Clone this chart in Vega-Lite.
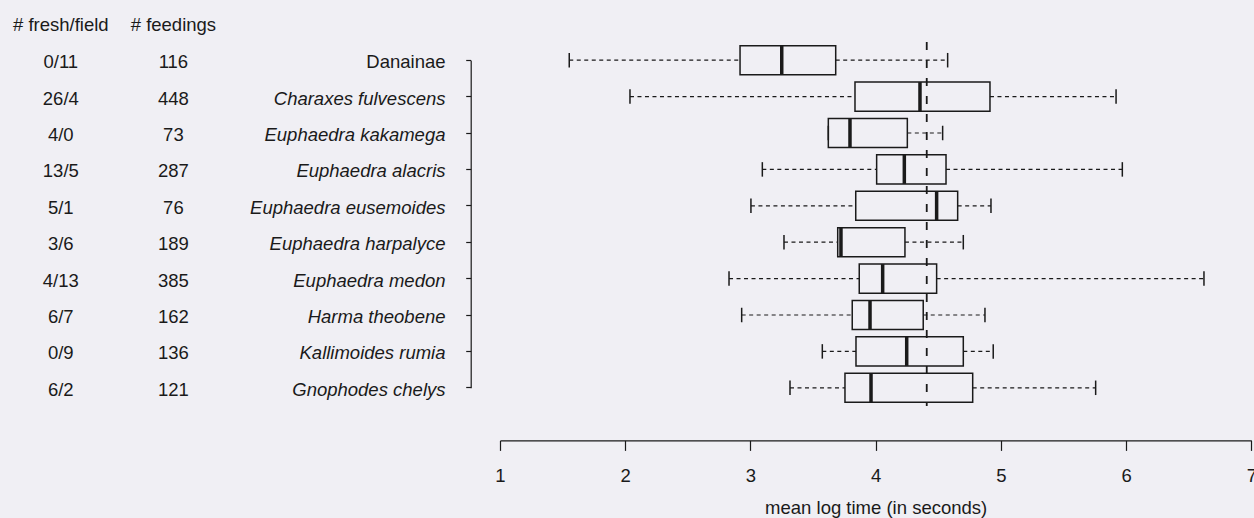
{
  "$schema": "https://vega.github.io/schema/vega-lite/v6.json",
  "background": "#f0eff4",
  "padding": {"top": 15, "left": 0, "right": 0, "bottom": 8},
  "config": {
    "view": {"stroke": null},
    "font": "Liberation Sans",
    "title": {"font": "Liberation Sans", "fontSize": 18.5, "fontWeight": "normal", "color": "#1a1a1a"}
  },
  "data": {
    "values": [
      {"species": "Danainae", "ff": "0/11", "feed": 116, "lo": 1.553, "q1": 2.917, "med": 3.250, "q3": 3.681, "hi": 4.575},
      {"species": "Charaxes fulvescens", "ff": "26/4", "feed": 448, "lo": 2.038, "q1": 3.835, "med": 4.354, "q3": 4.913, "hi": 5.920},
      {"species": "Euphaedra kakamega", "ff": "4/0", "feed": 73, "lo": 3.622, "q1": 3.622, "med": 3.795, "q3": 4.253, "hi": 4.535},
      {"species": "Euphaedra alacris", "ff": "13/5", "feed": 287, "lo": 3.095, "q1": 4.008, "med": 4.229, "q3": 4.562, "hi": 5.970},
      {"species": "Euphaedra eusemoides", "ff": "5/1", "feed": 76, "lo": 3.004, "q1": 3.841, "med": 4.487, "q3": 4.655, "hi": 4.921},
      {"species": "Euphaedra harpalyce", "ff": "3/6", "feed": 189, "lo": 3.268, "q1": 3.697, "med": 3.723, "q3": 4.234, "hi": 4.700},
      {"species": "Euphaedra medon", "ff": "4/13", "feed": 385, "lo": 2.829, "q1": 3.869, "med": 4.056, "q3": 4.487, "hi": 6.622},
      {"species": "Harma theobene", "ff": "6/7", "feed": 162, "lo": 2.930, "q1": 3.813, "med": 3.955, "q3": 4.380, "hi": 4.873},
      {"species": "Kallimoides rumia", "ff": "0/9", "feed": 136, "lo": 3.574, "q1": 3.843, "med": 4.248, "q3": 4.700, "hi": 4.939},
      {"species": "Gnophodes chelys", "ff": "6/2", "feed": 121, "lo": 3.316, "q1": 3.755, "med": 3.963, "q3": 4.775, "hi": 5.757}
    ]
  },
  "bounds": "flush",
  "spacing": 500,
  "hconcat": [
    {
      "bounds": "flush",
      "spacing": 0,
      "hconcat": [
        {
          "width": 121.6,
          "height": 364,
          "title": {"text": "# fresh/field", "offset": 8},
          "mark": {"type": "text", "fontSize": 18.5, "font": "Liberation Sans", "color": "#1a1a1a", "dy": 2},
          "encoding": {
            "y": {"field": "species", "type": "nominal", "sort": null, "axis": null, "scale": {"paddingInner": 0, "paddingOuter": 0}},
            "text": {"field": "ff", "type": "nominal"}
          }
        },
        {
          "width": 102.8,
          "height": 364,
          "title": {"text": "# feedings", "offset": 8},
          "mark": {"type": "text", "fontSize": 18.5, "font": "Liberation Sans", "color": "#1a1a1a", "dy": 2},
          "encoding": {
            "y": {"field": "species", "type": "nominal", "sort": null, "axis": null, "scale": {"paddingInner": 0, "paddingOuter": 0}},
            "text": {"field": "feed", "type": "quantitative"}
          }
        }
      ]
    },
    {
      "width": 751.3,
      "height": 364,
      "layer": [
        {
          "data": {"values": [{"overall": 4.408}]},
          "mark": {"type": "rule", "strokeDash": [8, 10], "strokeWidth": 1.8, "color": "#1a1a1a"},
          "encoding": {"x": {"field": "overall", "type": "quantitative"}}
        },
        {
          "mark": {"type": "rule", "strokeDash": [4, 3.5], "strokeWidth": 1.2, "color": "#1a1a1a"},
          "encoding": {
            "y": {"field": "species", "type": "nominal", "sort": null, "scale": {"paddingInner": 0, "paddingOuter": 0},
              "axis": {
                "title": null, "orient": "left", "offset": 29.3, "tickSize": 5, "labelPadding": 20.7, "labelOffset": 2,
                "labelFontSize": 18.5, "labelFont": "Liberation Sans", "labelColor": "#1a1a1a",
                "labelFontStyle": {"condition": {"test": "datum.value === 'Danainae'", "value": "normal"}, "value": "italic"},
                "labelLimit": 400,
                "domainColor": "#1a1a1a", "domainWidth": 1.2, "domainDash": [0, 18.2, 327.6, 100],
                "tickColor": "#1a1a1a", "tickWidth": 1.2, "grid": false
              }
            },
            "x": {"field": "lo", "type": "quantitative"},
            "x2": {"field": "q1"}
          }
        },
        {
          "mark": {"type": "rule", "strokeDash": [4, 3.5], "strokeWidth": 1.2, "color": "#1a1a1a"},
          "encoding": {
            "y": {"field": "species", "type": "nominal", "sort": null},
            "x": {"field": "q3", "type": "quantitative"},
            "x2": {"field": "hi"}
          }
        },
        {
          "mark": {"type": "tick", "size": 14.5, "thickness": 1.5, "color": "#1a1a1a", "opacity": 1},
          "encoding": {
            "y": {"field": "species", "type": "nominal", "sort": null},
            "x": {"field": "lo", "type": "quantitative"}
          }
        },
        {
          "mark": {"type": "tick", "size": 14.5, "thickness": 1.5, "color": "#1a1a1a", "opacity": 1},
          "encoding": {
            "y": {"field": "species", "type": "nominal", "sort": null},
            "x": {"field": "hi", "type": "quantitative"}
          }
        },
        {
          "mark": {"type": "bar", "height": {"band": 0.8}, "fill": "#f0eff4", "fillOpacity": 0, "stroke": "#1a1a1a", "strokeWidth": 1.5},
          "encoding": {
            "y": {"field": "species", "type": "nominal", "sort": null},
            "x": {"field": "q1", "type": "quantitative",
              "scale": {"domain": [1, 7], "nice": false, "zero": false},
              "axis": {
                "title": "mean log time (in seconds)", "values": [1, 2, 3, 4, 5, 6, 7], "format": "d",
                "offset": 34.4, "tickSize": 10, "labelPadding": 16, "titlePadding": 14,
                "labelFontSize": 18.5, "labelFont": "Liberation Sans", "labelColor": "#1a1a1a",
                "labelFlush": false, "labelOverlap": false,
                "titleFontSize": 18.5, "titleFont": "Liberation Sans", "titleFontWeight": "normal", "titleColor": "#1a1a1a",
                "domainColor": "#1a1a1a", "domainWidth": 1.2, "tickColor": "#1a1a1a", "tickWidth": 1.2, "grid": false
              }
            },
            "x2": {"field": "q3"}
          }
        },
        {
          "mark": {"type": "tick", "size": 29, "thickness": 3.5, "color": "#1a1a1a", "opacity": 1},
          "encoding": {
            "y": {"field": "species", "type": "nominal", "sort": null},
            "x": {"field": "med", "type": "quantitative"}
          }
        }
      ]
    }
  ]
}
